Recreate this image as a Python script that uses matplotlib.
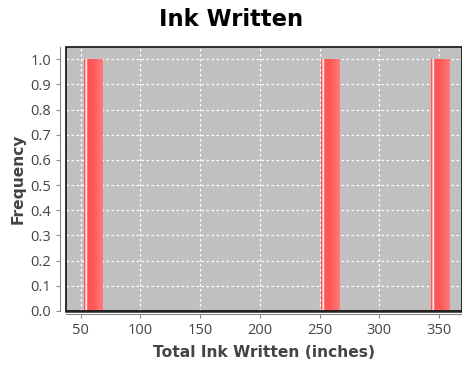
import matplotlib
matplotlib.use('Agg')
import numpy as np
import matplotlib.pyplot as plt
from matplotlib.patches import Rectangle
from matplotlib.colors import LinearSegmentedColormap

plt.rcParams['font.family'] = ['Open Sans', 'DejaVu Sans']

# 直方图数据
bin_left = [52.8, 251.2, 343.3]
bin_width = [15.9, 15.9, 15.9]
counts = [1.0, 1.0, 1.0]

x_ticks = [50, 100, 150, 200, 250, 300, 350]
y_ticks = np.round(np.arange(0, 1.01, 0.1), 1)

fig = plt.figure(figsize=(4.62, 3.67), dpi=100)
ax = fig.add_axes([66 / 462, 1 - 311 / 367, (462 - 66) / 462, (311 - 47) / 367])
ax.set_facecolor('#c0c0c0')

bars = ax.bar(bin_left, counts, width=bin_width, align='edge',
              color='#ff5757', linewidth=0, zorder=2)

# 渐变效果 + 左侧白色高光
grad = np.linspace(0, 1, 64).reshape(1, -1)
cmap = LinearSegmentedColormap.from_list('bar', ['#ff5050', '#ff5a5a', '#ff7a7a'])
for b in bars:
    x0, w, h = b.get_x(), b.get_width(), b.get_height()
    im = ax.imshow(grad, cmap=cmap, aspect='auto', extent=(x0, x0 + w, 0, h),
                   zorder=2.5, interpolation='bilinear')
    im.set_clip_path(b)
    ax.plot([x0 + w * 0.10] * 2, [0, h], color='white', lw=1.0, zorder=3, alpha=0.9)
    ax.plot([x0 + w * 0.03] * 2, [0, h], color='#ffb0b0', lw=0.8, zorder=3)

ax.set_xlim(37.7, 369.3)
ax.set_ylim(0, 1.049)
ax.set_xticks(x_ticks)
ax.set_yticks(y_ticks)
ax.set_yticklabels([f'{v:.1f}' for v in y_ticks])
ax.grid(True, color='white', linestyle=(0, (2, 2)), linewidth=0.9, zorder=1)
ax.set_axisbelow(True)

# 轴线
for s in ['top', 'right']:
    ax.spines[s].set_visible(False)
ax.spines['left'].set_position(('outward', 4))
ax.spines['bottom'].set_position(('outward', 2.5))
ax.spines['left'].set_color('#888888')
ax.spines['bottom'].set_color('#888888')
ax.spines['left'].set_linewidth(0.8)
ax.spines['bottom'].set_linewidth(0.8)

# 绘图区边框
ax.add_patch(Rectangle((0, 0), 1, 1, transform=ax.transAxes, fill=False,
                       edgecolor='#111111', linewidth=1.2, zorder=5, clip_on=False))
ax.plot([0, 1], [0, 0], transform=ax.transAxes, color='#222222', lw=1.8, zorder=6,
        clip_on=False)

ax.tick_params(axis='both', colors='#888888', labelcolor='#444444',
               labelsize=10.5, length=3, width=0.8)

ax.set_xlabel('Total Ink Written (inches)', fontsize=11.2, fontweight='bold',
              color='#444444', labelpad=5, family='DejaVu Sans')
ax.set_ylabel('Frequency', fontsize=11.2, fontweight='bold', color='#444444',
              labelpad=3.5, family='DejaVu Sans')
fig.text(0.5, 1 - 20 / 367, 'Ink Written', ha='center', va='center',
         fontsize=16.3, fontweight='bold', color='black', family='DejaVu Sans')

fig.savefig('out.png', dpi=100, facecolor='white')
